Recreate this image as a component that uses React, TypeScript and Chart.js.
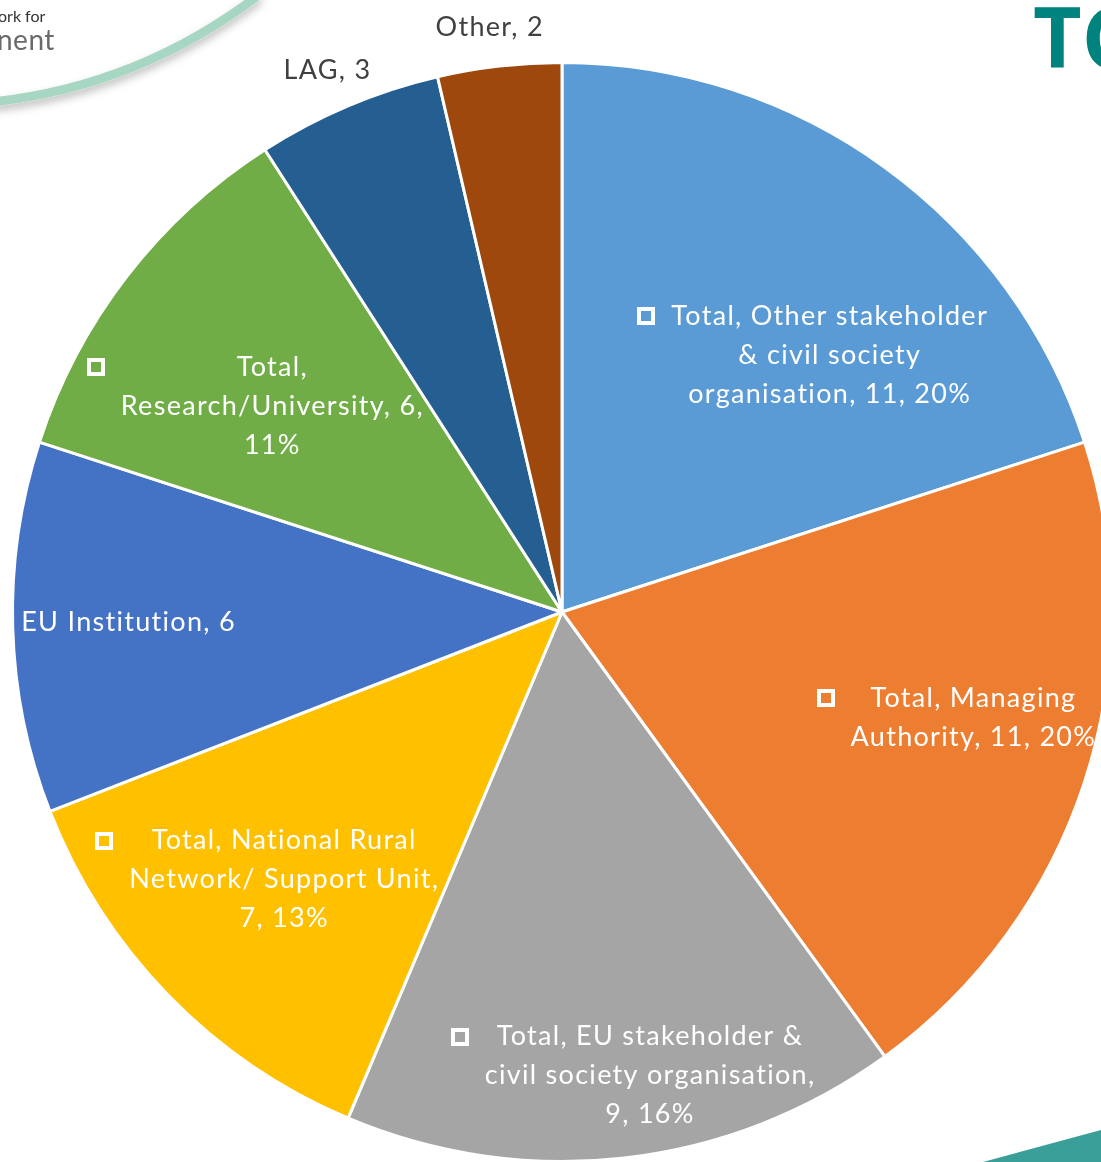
import React, { useEffect, useRef } from "react";
import { Chart, registerables } from "chart.js";

Chart.register(...registerables);

// ---- data ----
const categories = [
  "Other stakeholder & civil society organisation",
  "Managing Authority",
  "EU stakeholder & civil society organisation",
  "National Rural Network/ Support Unit",
  "EU Institution",
  "Research/University",
  "LAG",
  "Other",
];
const values = [11, 11, 9, 7, 6, 6, 3, 2];
const isTotalSeries = [true, true, true, true, false, true, false, false];
const colors = ["#5B9BD5", "#ED7D31", "#A5A5A5", "#FFC000", "#4472C4", "#70AD47", "#255E91", "#9E480E"];

// ---- label layout (where lines break, where labels sit relative to their slice) ----
const lineBreaks: string[][] = [
  ["& civil", "organisation"],
  ["Authority"],
  ["civil society", "9,"],
  ["Network", "7,"],
  [],
  ["Research", "11%"],
  [],
  [],
];
const labelAngleOffset = [10.2, -3.6, -4.2, 0.25, 0.3, -2.2, -0.5, -0.5];
const labelRadius = [0.675, 0.773, 0.859, 0.702, 0.789, 0.647, 1.074, 1.072];

const FONT = "27px Lato, 'Open Sans', sans-serif";
const LETTER_SPACING = "1.3px";
const LINE_H = 39;

function labelLines(i: number, total: number): string[] {
  const v = values[i];
  const pct = Math.round((v / total) * 100);
  const full = isTotalSeries[i]
    ? `Total, ${categories[i]}, ${v}, ${pct}%`
    : `${categories[i]}, ${v}`;
  const out: string[] = [];
  let rest = full;
  for (const b of lineBreaks[i]) {
    const idx = rest.indexOf(b);
    if (idx > 0) {
      out.push(rest.slice(0, idx).trim());
      rest = rest.slice(idx);
    }
  }
  out.push(rest.trim());
  return out;
}

const labelPlugin = {
  id: "sliceLabels",
  afterDatasetsDraw(chart: any) {
    const ctx = chart.ctx as CanvasRenderingContext2D;
    const meta = chart.getDatasetMeta(0);
    const total = values.reduce((a, b) => a + b, 0);
    ctx.save();
    ctx.font = FONT;
    (ctx as any).letterSpacing = LETTER_SPACING;
    ctx.textAlign = "center";
    ctx.textBaseline = "middle";
    meta.data.forEach((arc: any, i: number) => {
      const { x, y, startAngle, endAngle, outerRadius } = arc.getProps(
        ["x", "y", "startAngle", "endAngle", "outerRadius"],
        true
      );
      const mid = (startAngle + endAngle) / 2 + (labelAngleOffset[i] * Math.PI) / 180;
      const r = outerRadius * labelRadius[i];
      const cx = x + Math.cos(mid) * r;
      const cy = y + Math.sin(mid) * r;
      const lines = labelLines(i, total);
      const outside = labelRadius[i] > 1;
      ctx.fillStyle = outside ? "#404040" : "#FFFFFF";
      const n = lines.length;
      let maxW = 0;
      lines.forEach((ln, k) => {
        const ly = cy + (k - (n - 1) / 2) * LINE_H;
        ctx.fillText(ln, cx, ly);
        maxW = Math.max(maxW, ctx.measureText(ln).width);
      });
      if (isTotalSeries[i]) {
        const sx = Math.round(cx - maxW / 2 - 25);
        const sy = Math.round(cy - ((n - 1) / 2) * LINE_H);
        ctx.strokeStyle = "#FFFFFF";
        ctx.lineWidth = 4;
        ctx.strokeRect(sx - 7, sy - 7, 14, 14);
      }
    });
    ctx.restore();
  },
};

function PieChart() {
  const ref = useRef<HTMLCanvasElement | null>(null);
  useEffect(() => {
    if (!ref.current) return;
    const chart = new Chart(ref.current, {
      type: "pie",
      data: {
        labels: categories,
        datasets: [
          {
            data: values,
            backgroundColor: colors,
            borderColor: "#FFFFFF",
            borderWidth: 3,
          },
        ],
      },
      options: {
        responsive: false,
        animation: false,
        layout: { padding: { left: 11, right: 11, top: 61, bottom: 61 } },
        plugins: {
          legend: { display: false },
          tooltip: { enabled: false },
        },
      },
      plugins: [labelPlugin],
    });
    return () => chart.destroy();
  }, []);
  return <canvas ref={ref} width={1124} height={1224} style={{ position: "absolute", left: 0, top: 0 }} />;
}

export default function App() {
  return (
    <div
      style={{
        position: "fixed",
        left: 0,
        top: 0,
        width: 1101,
        height: 1162,
        overflow: "hidden",
        background: "#FFFFFF",
      }}
    >
      <PieChart />
      <svg
        width={1101}
        height={1162}
        style={{ position: "absolute", left: 0, top: 0, pointerEvents: "none" }}
      >
        <defs>
          <filter id="sh" x="-20%" y="-20%" width="140%" height="160%">
            <feDropShadow dx="0" dy="5" stdDeviation="4" floodColor="#000" floodOpacity="0.25" />
          </filter>
        </defs>
        <path d="M -8 102 Q 140 86 260 -6" fill="none" stroke="#A7D7C2" strokeWidth={9} filter="url(#sh)" />
        <text x={-2} y={22} fontFamily="Lato, 'Open Sans', sans-serif" fontSize={16} fill="#333">ork for</text>
        <text x={-3} y={50} fontFamily="Lato, 'Open Sans', sans-serif" fontSize={28} letterSpacing={0.5} fill="#6a6a6a">nent</text>
        <text x={1033} y={68} fontFamily="'Open Sans', sans-serif" fontWeight={700} fontSize={84} fill="#00837F">TC</text>
        <polygon points="983,1162 1101,1130 1101,1162" fill="#3A9E99" />
      </svg>
    </div>
  );
}
